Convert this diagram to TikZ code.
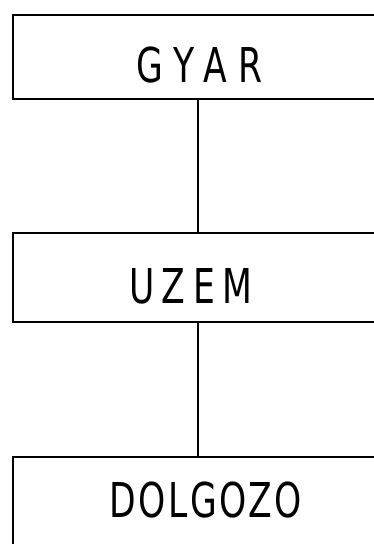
\documentclass[tikz,border=0pt]{standalone}
\usepackage{fontspec}
\setmainfont{DejaVu Sans}[FakeStretch=0.72]
\tikzset{
  orgbox/.style={draw, line width=2.8pt, minimum width=370pt, inner sep=0pt},
  orgtext/.style={font=\fontsize{48}{48}\selectfont, inner sep=0pt},
  link/.style={line width=2pt}
}

\begin{document}
\begin{tikzpicture}[x=1pt, y=-1pt]
  \useasboundingbox (0,0) rectangle (374,544);
  \clip (0,0) rectangle (374,544);

  % the three levels
  \node[orgbox, minimum height=84pt] (gyar)    at (198,57)    {};
  \node[orgbox, minimum height=89pt] (uzem)    at (198,277.5) {};
  \node[orgbox, minimum height=93pt] (dolgozo) at (198,503.5) {};

  \node[orgtext] (gyarname)    at (199.5,65)
    {\addfontfeature{LetterSpace=24}GYAR};
  \node[orgtext] (uzemname)    at (191,286)
    {\addfontfeature{LetterSpace=16}UZEM};
  \node[orgtext] (dolgozoname) at (206,500)
    {\addfontfeature{LetterSpace=5}DOLGOZO};

  \draw[link] (gyar) -- (uzem);
  \draw[link] (uzem) -- (dolgozo);
\end{tikzpicture}
\end{document}
